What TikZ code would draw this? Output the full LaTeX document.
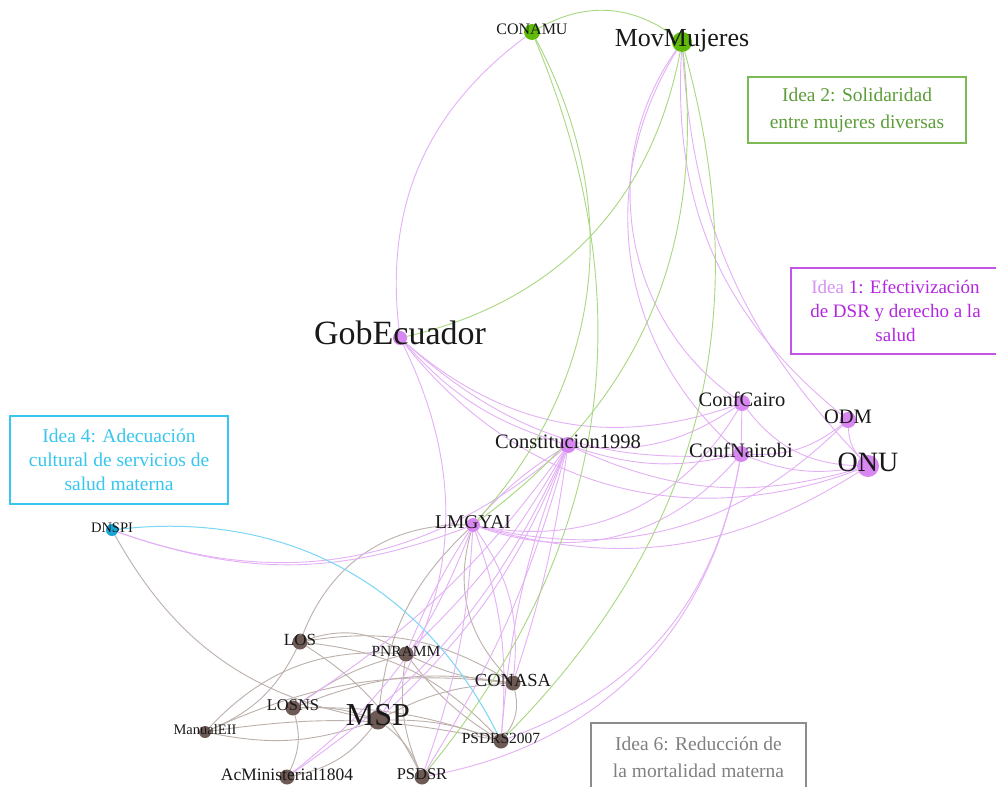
\documentclass[tikz,border=0pt]{standalone}
\usepackage{fontspec}
\setmainfont{Liberation Serif}
\usetikzlibrary{backgrounds}
\definecolor{pE}{HTML}{E4B0F6}
\definecolor{gE}{HTML}{A8D880}
\definecolor{bE}{HTML}{BCB0AB}
\definecolor{cE}{HTML}{7AD6F6}
\definecolor{gN}{HTML}{5FBA0A}
\definecolor{pN}{HTML}{D886F0}
\definecolor{bN}{HTML}{6E5A55}
\definecolor{cN}{HTML}{16A6D8}
\definecolor{gT}{HTML}{5E9E3A}
\definecolor{gB}{HTML}{7BBA55}
\definecolor{mT}{HTML}{B327E0}
\definecolor{mL}{HTML}{D692F0}
\definecolor{mB}{HTML}{C255E8}
\definecolor{cT}{HTML}{38C6F0}
\definecolor{grT}{HTML}{808080}
\definecolor{grB}{HTML}{8C8C8C}
\begin{document}
\begin{tikzpicture}[x=1pt,y=1pt,
  vtx/.style={circle,inner sep=0pt,minimum size=#1},
  gv/.style={vtx=#1,fill=gN},
  pv/.style={vtx=#1,fill=pN},
  bv/.style={vtx=#1,fill=bN},
  cv/.style={vtx=#1,fill=cN},
  lab/.style={anchor=base,inner sep=0pt,text=black!90,font=\fontsize{#1}{#1}\selectfont,yshift={-0.18*#1}},
  ibox/.style={draw,line width=1.2pt,align=center,inner sep=0pt},
  pe/.style={draw=pE,line width=0.9pt},
  ge/.style={draw=gE,line width=0.9pt},
  be/.style={draw=bE,line width=0.9pt},
  ce/.style={draw=cE,line width=1pt}]
\useasboundingbox (0,0) rectangle (996,-787);
\clip (0,0) rectangle (996,-787);
% vertices
\node[gv=16pt] (conamu) at (532,-32) {};
\node[gv=20pt] (mov) at (682,-42) {};
\node[pv=14pt] (gob) at (400,-338) {};
\node[pv=16pt] (cairo) at (742,-403) {};
\node[pv=16pt] (odm) at (848,-420) {};
\node[pv=22pt] (onu) at (868,-466) {};
\node[pv=16pt] (nairobi) at (741,-454) {};
\node[pv=16pt] (const) at (568,-445) {};
\node[pv=14pt] (lmg) at (473,-525) {};
\node[cv=12pt] (dnspi) at (112,-530) {};
\node[bv=15pt] (los) at (300,-642) {};
\node[bv=15pt] (pnr) at (406,-654) {};
\node[bv=15pt] (conasa) at (513,-683) {};
\node[bv=15pt] (losns) at (293,-708) {};
\node[bv=19pt] (msp) at (378,-720) {};
\node[bv=12pt] (manual) at (205,-732) {};
\node[bv=15pt] (psdrs) at (501,-741) {};
\node[bv=15pt] (acmin) at (287,-777) {};
\node[bv=15pt] (psdsr) at (422,-777) {};
\begin{pgfonlayer}{background}
\fill[white] (0,0) rectangle (996,-787);
% brown edges
\draw[be] (dnspi) to[bend right=25] (msp);
\draw[be] (lmg) to[bend right=35] (los);
\draw[be] (lmg) to[bend right=20] (msp);
\draw[be] (lmg) to[bend right=30] (conasa);
\draw[be] (los) to[bend left=25] (pnr);
\draw[be] (los) to[bend left=15] (psdsr);
\draw[be] (los) to[bend left=20] (psdrs);
\draw[be] (los) to[bend left=20] (conasa);
\draw[be] (los) to[bend left=20] (manual);
\draw[be] (pnr) to[bend right=25] (manual);
\draw[be] (pnr) to[bend right=10] (losns);
\draw[be] (pnr) to[bend right=10] (conasa);
\draw[be] (pnr) to[bend right=10] (psdrs);
\draw[be] (pnr) to[bend right=15] (psdsr);
\draw[be] (losns) to[bend left=15] (conasa);
\draw[be] (losns) to[bend left=10] (psdrs);
\draw[be] (losns) to[bend left=10] (msp);
\draw[be] (losns) to[bend left=20] (acmin);
\draw[be] (manual) to[bend right=15] (msp);
\draw[be] (manual) to[bend left=10] (psdrs);
\draw[be] (manual) to[bend left=15] (conasa);
\draw[be] (msp) to[bend left=10] (psdrs);
\draw[be] (msp) to[bend left=12] (conasa);
\draw[be] (msp) to[bend left=15] (psdsr);
\draw[be] (msp) to[bend left=20] (acmin);
\draw[be] (conasa) to[bend left=25] (psdrs);
% pink edges
\draw[pe] (gob) to[bend left=30] (conamu);
\draw[pe] (mov) to[bend right=45] (cairo);
\draw[pe] (mov) to[bend right=40] (nairobi);
\draw[pe] (mov) to[bend right=27] (odm);
\draw[pe] (mov) to[bend right=20] (onu);
\draw[pe] (gob) to[bend right=30] (cairo);
\draw[pe] (gob) to[bend right=23] (nairobi);
\draw[pe] (gob) to[bend right=36] (onu);
\draw[pe] (gob) to[bend right=15] (const);
\draw[pe] (gob) to[bend left=29] (msp);
\draw[pe] (const) to[bend right=20] (cairo);
\draw[pe] (const) to[bend right=15] (nairobi);
\draw[pe] (const) to[bend right=20] (onu);
\draw[pe] (const) to[bend right=8] (lmg);
\draw[pe] (const) to[bend left=15] (acmin);
\draw[pe] (const) to[bend left=12] (msp);
\draw[pe] (const) to[bend left=10] (losns);
\draw[pe] (const) to[bend left=8] (pnr);
\draw[pe] (const) to[bend left=8] (psdsr);
\draw[pe] (const) to[bend right=8] (psdrs);
\draw[pe] (const) to[bend left=5] (conasa);
\draw[pe] (lmg) to[bend right=24] (onu);
\draw[pe] (lmg) to[bend right=34] (nairobi);
\draw[pe] (lmg) to[bend right=35] (cairo);
\draw[pe] (dnspi) to[bend right=20] (lmg);
\draw[pe] (dnspi) to[bend right=30] (const);
\draw[pe] (lmg) to[bend left=12] (psdrs);
\draw[pe] (lmg) to[bend left=20] (conasa);
\draw[pe] (lmg) to[bend left=8] (psdsr);
\draw[pe] (lmg) to[bend right=5] (pnr);
\draw[pe] (lmg) to[bend left=15] (acmin);
\draw[pe] (cairo) -- (nairobi);
\draw[pe] (cairo) to[bend right=25] (onu);
\draw[pe] (nairobi) to[bend right=15] (onu);
\draw[pe] (odm) to[bend left=20] (nairobi);
\draw[pe] (odm) to[bend right=20] (onu);
\draw[pe] (odm) to[bend left=29] (lmg);
\draw[pe] (nairobi) to[bend left=35] (psdsr);
\draw[pe] (nairobi) to[bend left=30] (psdrs);
% green edges
\draw[ge] (conamu) to[bend left=33] (mov);
\draw[ge] (conamu) to[bend left=35] (lmg);
\draw[ge] (conamu) to[bend left=31] (psdsr);
\draw[ge] (mov) to[bend left=33] (gob);
\draw[ge] (mov) to[bend left=30] (lmg);
\draw[ge] (mov) to[bend left=30] (psdrs);
% blue edge
\draw[ce] (dnspi) to[bend left=35] (psdrs);
\end{pgfonlayer}
% labels
\node[lab=16] (conamuL) at (conamu.center) {CONAMU};
\node[lab=26] (movL) at (mov.center) {MovMujeres};
\node[lab=34] (gobL) at (gob.center) {GobEcuador};
\node[lab=20.5] (cairoL) at (cairo.center) {ConfCairo};
\node[lab=20.5] (odmL) at (odm.center) {ODM};
\node[lab=28] (onuL) at (onu.center) {ONU};
\node[lab=20.5] (nairobiL) at (nairobi.center) {ConfNairobi};
\node[lab=20.5] (constL) at (const.center) {Constitucion1998};
\node[lab=19.5] (lmgL) at (lmg.center) {LMGYAI};
\node[lab=14.5] (dnspiL) at (dnspi.center) {DNSPI};
\node[lab=17] (losL) at (los.center) {LOS};
\node[lab=15.5] (pnrL) at (pnr.center) {PNRAMM};
\node[lab=18.5] (conasaL) at (conasa.center) {CONASA};
\node[lab=16.5] (losnsL) at (losns.center) {LOSNS};
\node[lab=32] (mspL) at (msp.center) {MSP};
\node[lab=14.5] (manualL) at (manual.center) {ManualEII};
\node[lab=15.5] (psdrsL) at (psdrs.center) {PSDRS2007};
\node[lab=17.5] (acminL) at (acmin.center) {AcMinisterial1804};
\node[lab=16.5] (psdsrL) at (psdsr.center) {PSDSR};
% idea boxes
\node[ibox,draw=gB,text=gT,minimum width=218pt,minimum height=66pt,font=\fontsize{19.5}{27}\selectfont] (idea2) at (857,-110) {Idea 2: Solidaridad\\entre mujeres diversas};
\node[ibox,draw=mB,text=mT,minimum width=209pt,minimum height=86pt,font=\fontsize{19}{24}\selectfont] (idea1) at (895.5,-311) {\textcolor{mL}{Idea} 1: Efectivización\\de DSR y derecho a la\\salud};
\node[ibox,draw=cT,text=cT,minimum width=218pt,minimum height=88pt,font=\fontsize{19.5}{24}\selectfont] (idea4) at (119,-460) {Idea 4: Adecuación\\cultural de servicios de\\salud materna};
\node[ibox,draw=grB,text=grT,minimum width=215pt,minimum height=68pt,font=\fontsize{19.5}{27}\selectfont] (idea6) at (698.5,-757) {Idea 6: Reducción de\\la mortalidad materna};
\end{tikzpicture}
\end{document}
